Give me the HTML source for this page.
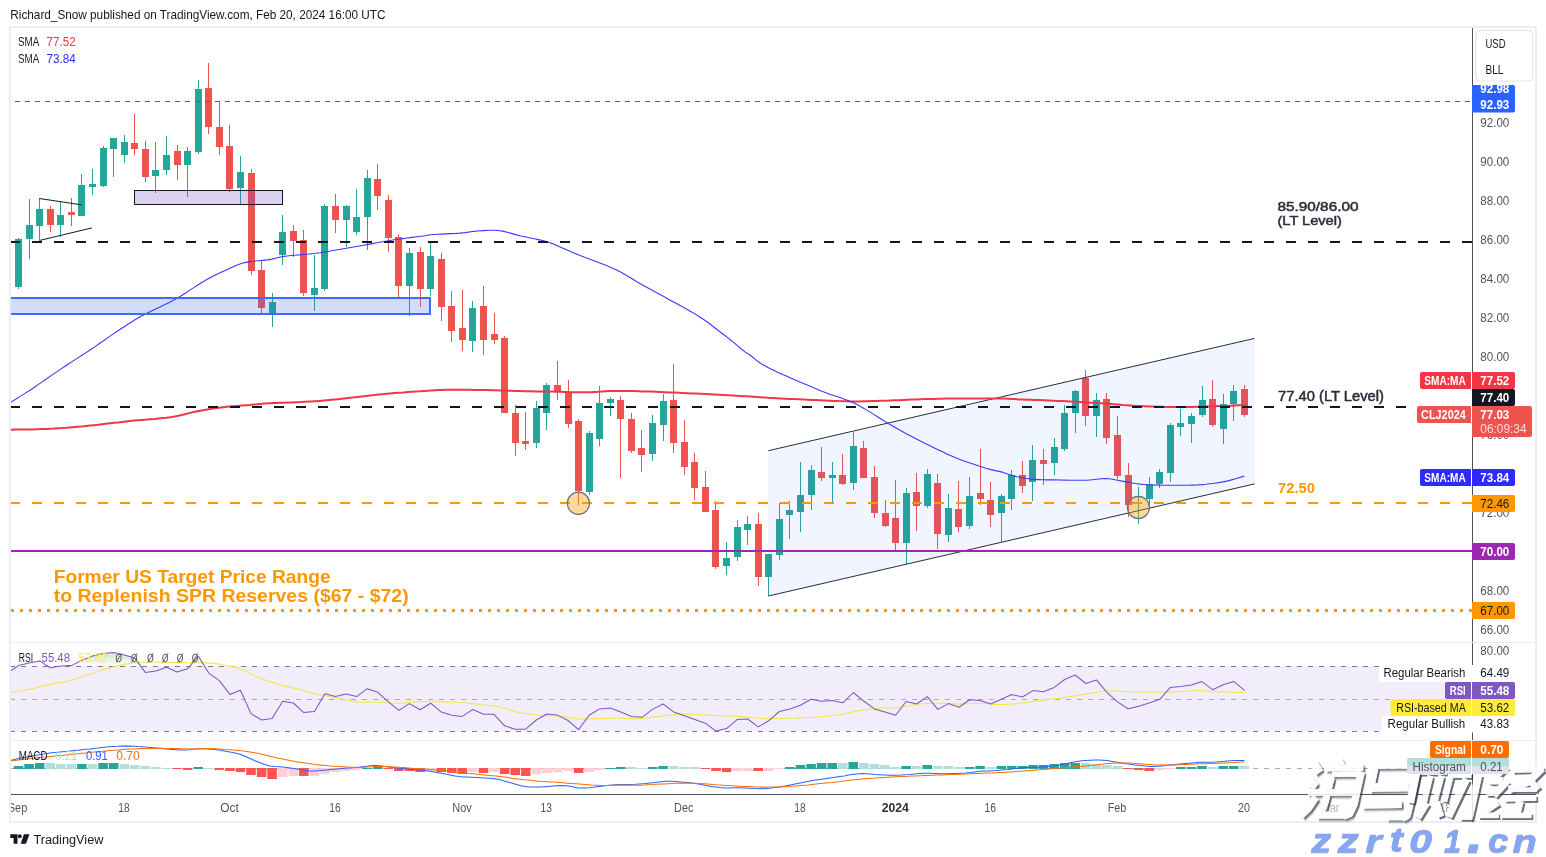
<!DOCTYPE html><html><head><meta charset="utf-8"><title>chart</title><style>html,body{margin:0;padding:0;background:#fff;overflow:hidden;font-family:"Liberation Sans",sans-serif;}svg{display:block;will-change:transform}</style></head><body><svg width="1546" height="857" viewBox="0 0 1546 857" font-family="Liberation Sans, sans-serif">
<rect width="1546" height="857" fill="#fff"/>
<text x="10.3" y="19.4" font-size="13" fill="#131722" textLength="375.2" lengthAdjust="spacingAndGlyphs" >Richard_Snow published on TradingView.com, Feb 20, 2024 16:00 UTC</text>
<rect x="10" y="27" width="1526" height="795" fill="none" stroke="#eceef4" stroke-width="2"/>
<rect x="10" y="642" width="1526" height="1" fill="#eceef4" shape-rendering="crispEdges"/>
<rect x="10" y="740" width="1526" height="1" fill="#eceef4" shape-rendering="crispEdges"/>
<defs><linearGradient id="obg" x1="0" y1="650" x2="0" y2="666" gradientUnits="userSpaceOnUse"><stop offset="0" stop-color="#4caf50" stop-opacity="0.32"/><stop offset="1" stop-color="#4caf50" stop-opacity="0.02"/></linearGradient><clipPath id="plot"><rect x="11" y="28" width="1461" height="766"/></clipPath></defs>
<g clip-path="url(#plot)">
<rect x="11" y="666" width="1461" height="65" fill="#f1edfa" shape-rendering="crispEdges"/>
<line x1="-1" y1="666.5" x2="1472" y2="666.5" stroke="#787b86" stroke-width="1" stroke-dasharray="5 6" shape-rendering="crispEdges"/>
<line x1="-1" y1="699.5" x2="1472" y2="699.5" stroke="#a9abb3" stroke-width="1" stroke-dasharray="5 6" shape-rendering="crispEdges"/>
<line x1="-1" y1="731.5" x2="1472" y2="731.5" stroke="#787b86" stroke-width="1" stroke-dasharray="5 6" shape-rendering="crispEdges"/>
<line x1="-1" y1="768.5" x2="1472" y2="768.5" stroke="#a9abb3" stroke-width="1" stroke-dasharray="5 6" shape-rendering="crispEdges"/>
<rect x="10" y="287" width="1" height="11" fill="#26a69a" shape-rendering="crispEdges"/>
<g shape-rendering="crispEdges">
<rect x="18" y="238" width="1" height="51" fill="#26a69a"/>
<rect x="15" y="239" width="7" height="48" fill="#26a69a"/>
<rect x="29" y="199" width="1" height="60" fill="#26a69a"/>
<rect x="26" y="225" width="7" height="14" fill="#26a69a"/>
<rect x="39" y="198" width="1" height="42" fill="#26a69a"/>
<rect x="36" y="209" width="7" height="17" fill="#26a69a"/>
<rect x="50" y="206" width="1" height="26" fill="#ef5350"/>
<rect x="47" y="209" width="7" height="16" fill="#ef5350"/>
<rect x="60" y="202" width="1" height="35" fill="#26a69a"/>
<rect x="57" y="215" width="7" height="10" fill="#26a69a"/>
<rect x="71" y="198" width="1" height="28" fill="#ef5350"/>
<rect x="68" y="212" width="7" height="3" fill="#ef5350"/>
<rect x="81" y="174" width="1" height="42" fill="#26a69a"/>
<rect x="78" y="185" width="7" height="31" fill="#26a69a"/>
<rect x="92" y="169" width="1" height="26" fill="#26a69a"/>
<rect x="89" y="184" width="7" height="3" fill="#26a69a"/>
<rect x="103" y="146" width="1" height="41" fill="#26a69a"/>
<rect x="100" y="148" width="7" height="38" fill="#26a69a"/>
<rect x="113" y="138" width="1" height="39" fill="#26a69a"/>
<rect x="110" y="138" width="7" height="11" fill="#26a69a"/>
<rect x="124" y="135" width="1" height="28" fill="#26a69a"/>
<rect x="121" y="142" width="7" height="13" fill="#26a69a"/>
<rect x="134" y="114" width="1" height="41" fill="#ef5350"/>
<rect x="131" y="143" width="7" height="6" fill="#ef5350"/>
<rect x="145" y="141" width="1" height="41" fill="#ef5350"/>
<rect x="142" y="149" width="7" height="28" fill="#ef5350"/>
<rect x="155" y="142" width="1" height="51" fill="#26a69a"/>
<rect x="152" y="170" width="7" height="6" fill="#26a69a"/>
<rect x="166" y="136" width="1" height="39" fill="#26a69a"/>
<rect x="163" y="155" width="7" height="15" fill="#26a69a"/>
<rect x="177" y="145" width="1" height="35" fill="#ef5350"/>
<rect x="174" y="151" width="7" height="14" fill="#ef5350"/>
<rect x="187" y="147" width="1" height="50" fill="#26a69a"/>
<rect x="184" y="151" width="7" height="14" fill="#26a69a"/>
<rect x="198" y="80" width="1" height="74" fill="#26a69a"/>
<rect x="195" y="89" width="7" height="63" fill="#26a69a"/>
<rect x="208" y="63" width="1" height="71" fill="#ef5350"/>
<rect x="205" y="88" width="7" height="39" fill="#ef5350"/>
<rect x="219" y="101" width="1" height="54" fill="#ef5350"/>
<rect x="216" y="127" width="7" height="20" fill="#ef5350"/>
<rect x="229" y="125" width="1" height="67" fill="#ef5350"/>
<rect x="226" y="146" width="7" height="43" fill="#ef5350"/>
<rect x="240" y="156" width="1" height="48" fill="#26a69a"/>
<rect x="237" y="172" width="7" height="16" fill="#26a69a"/>
<rect x="251" y="169" width="1" height="106" fill="#ef5350"/>
<rect x="248" y="173" width="7" height="98" fill="#ef5350"/>
<rect x="261" y="261" width="1" height="53" fill="#ef5350"/>
<rect x="258" y="270" width="7" height="38" fill="#ef5350"/>
<rect x="272" y="293" width="1" height="34" fill="#26a69a"/>
<rect x="269" y="302" width="7" height="11" fill="#26a69a"/>
<rect x="282" y="215" width="1" height="50" fill="#26a69a"/>
<rect x="279" y="232" width="7" height="23" fill="#26a69a"/>
<rect x="293" y="225" width="1" height="32" fill="#ef5350"/>
<rect x="290" y="231" width="7" height="10" fill="#ef5350"/>
<rect x="303" y="230" width="1" height="66" fill="#ef5350"/>
<rect x="300" y="240" width="7" height="53" fill="#ef5350"/>
<rect x="314" y="255" width="1" height="56" fill="#26a69a"/>
<rect x="311" y="288" width="7" height="7" fill="#26a69a"/>
<rect x="324" y="204" width="1" height="87" fill="#26a69a"/>
<rect x="321" y="206" width="7" height="83" fill="#26a69a"/>
<rect x="335" y="194" width="1" height="39" fill="#ef5350"/>
<rect x="332" y="206" width="7" height="14" fill="#ef5350"/>
<rect x="346" y="205" width="1" height="42" fill="#26a69a"/>
<rect x="343" y="206" width="7" height="14" fill="#26a69a"/>
<rect x="356" y="189" width="1" height="46" fill="#26a69a"/>
<rect x="353" y="217" width="7" height="15" fill="#26a69a"/>
<rect x="367" y="170" width="1" height="80" fill="#26a69a"/>
<rect x="364" y="178" width="7" height="39" fill="#26a69a"/>
<rect x="377" y="164" width="1" height="46" fill="#ef5350"/>
<rect x="374" y="179" width="7" height="17" fill="#ef5350"/>
<rect x="388" y="195" width="1" height="57" fill="#ef5350"/>
<rect x="385" y="200" width="7" height="38" fill="#ef5350"/>
<rect x="398" y="234" width="1" height="64" fill="#ef5350"/>
<rect x="395" y="237" width="7" height="49" fill="#ef5350"/>
<rect x="409" y="248" width="1" height="68" fill="#26a69a"/>
<rect x="406" y="253" width="7" height="33" fill="#26a69a"/>
<rect x="420" y="247" width="1" height="60" fill="#ef5350"/>
<rect x="417" y="252" width="7" height="37" fill="#ef5350"/>
<rect x="430" y="243" width="1" height="53" fill="#26a69a"/>
<rect x="427" y="256" width="7" height="33" fill="#26a69a"/>
<rect x="441" y="253" width="1" height="68" fill="#ef5350"/>
<rect x="438" y="259" width="7" height="48" fill="#ef5350"/>
<rect x="451" y="291" width="1" height="51" fill="#ef5350"/>
<rect x="448" y="306" width="7" height="25" fill="#ef5350"/>
<rect x="462" y="290" width="1" height="61" fill="#ef5350"/>
<rect x="459" y="328" width="7" height="12" fill="#ef5350"/>
<rect x="472" y="301" width="1" height="51" fill="#26a69a"/>
<rect x="469" y="308" width="7" height="33" fill="#26a69a"/>
<rect x="483" y="286" width="1" height="69" fill="#ef5350"/>
<rect x="480" y="306" width="7" height="34" fill="#ef5350"/>
<rect x="494" y="313" width="1" height="31" fill="#ef5350"/>
<rect x="491" y="334" width="7" height="6" fill="#ef5350"/>
<rect x="504" y="336" width="1" height="77" fill="#ef5350"/>
<rect x="501" y="338" width="7" height="75" fill="#ef5350"/>
<rect x="515" y="405" width="1" height="51" fill="#ef5350"/>
<rect x="512" y="413" width="7" height="30" fill="#ef5350"/>
<rect x="525" y="412" width="1" height="38" fill="#ef5350"/>
<rect x="522" y="441" width="7" height="3" fill="#ef5350"/>
<rect x="536" y="401" width="1" height="47" fill="#26a69a"/>
<rect x="533" y="408" width="7" height="35" fill="#26a69a"/>
<rect x="546" y="383" width="1" height="47" fill="#26a69a"/>
<rect x="543" y="385" width="7" height="28" fill="#26a69a"/>
<rect x="557" y="361" width="1" height="39" fill="#ef5350"/>
<rect x="554" y="385" width="7" height="7" fill="#ef5350"/>
<rect x="568" y="380" width="1" height="48" fill="#ef5350"/>
<rect x="565" y="392" width="7" height="32" fill="#ef5350"/>
<rect x="578" y="419" width="1" height="86" fill="#ef5350"/>
<rect x="575" y="421" width="7" height="70" fill="#ef5350"/>
<rect x="589" y="431" width="1" height="64" fill="#26a69a"/>
<rect x="586" y="433" width="7" height="59" fill="#26a69a"/>
<rect x="599" y="386" width="1" height="60" fill="#26a69a"/>
<rect x="596" y="403" width="7" height="36" fill="#26a69a"/>
<rect x="610" y="397" width="1" height="19" fill="#26a69a"/>
<rect x="607" y="399" width="7" height="4" fill="#26a69a"/>
<rect x="620" y="396" width="1" height="82" fill="#ef5350"/>
<rect x="617" y="400" width="7" height="19" fill="#ef5350"/>
<rect x="631" y="413" width="1" height="40" fill="#ef5350"/>
<rect x="628" y="419" width="7" height="32" fill="#ef5350"/>
<rect x="641" y="430" width="1" height="42" fill="#ef5350"/>
<rect x="638" y="448" width="7" height="7" fill="#ef5350"/>
<rect x="652" y="415" width="1" height="46" fill="#26a69a"/>
<rect x="649" y="423" width="7" height="31" fill="#26a69a"/>
<rect x="663" y="394" width="1" height="47" fill="#26a69a"/>
<rect x="660" y="401" width="7" height="24" fill="#26a69a"/>
<rect x="673" y="364" width="1" height="89" fill="#ef5350"/>
<rect x="670" y="400" width="7" height="43" fill="#ef5350"/>
<rect x="684" y="420" width="1" height="55" fill="#ef5350"/>
<rect x="681" y="442" width="7" height="25" fill="#ef5350"/>
<rect x="694" y="453" width="1" height="47" fill="#ef5350"/>
<rect x="691" y="462" width="7" height="26" fill="#ef5350"/>
<rect x="705" y="471" width="1" height="41" fill="#ef5350"/>
<rect x="702" y="487" width="7" height="25" fill="#ef5350"/>
<rect x="715" y="501" width="1" height="68" fill="#ef5350"/>
<rect x="712" y="510" width="7" height="57" fill="#ef5350"/>
<rect x="726" y="542" width="1" height="33" fill="#26a69a"/>
<rect x="723" y="558" width="7" height="8" fill="#26a69a"/>
<rect x="737" y="520" width="1" height="41" fill="#26a69a"/>
<rect x="734" y="527" width="7" height="30" fill="#26a69a"/>
<rect x="747" y="516" width="1" height="29" fill="#26a69a"/>
<rect x="744" y="524" width="7" height="6" fill="#26a69a"/>
<rect x="758" y="513" width="1" height="73" fill="#ef5350"/>
<rect x="755" y="524" width="7" height="53" fill="#ef5350"/>
<rect x="768" y="554" width="1" height="42" fill="#26a69a"/>
<rect x="765" y="554" width="7" height="23" fill="#26a69a"/>
<rect x="779" y="503" width="1" height="57" fill="#26a69a"/>
<rect x="776" y="519" width="7" height="36" fill="#26a69a"/>
<rect x="789" y="501" width="1" height="38" fill="#26a69a"/>
<rect x="786" y="510" width="7" height="5" fill="#26a69a"/>
<rect x="800" y="462" width="1" height="70" fill="#26a69a"/>
<rect x="797" y="495" width="7" height="17" fill="#26a69a"/>
<rect x="811" y="465" width="1" height="45" fill="#26a69a"/>
<rect x="808" y="470" width="7" height="25" fill="#26a69a"/>
<rect x="821" y="447" width="1" height="34" fill="#ef5350"/>
<rect x="818" y="472" width="7" height="6" fill="#ef5350"/>
<rect x="832" y="462" width="1" height="41" fill="#26a69a"/>
<rect x="829" y="475" width="7" height="3" fill="#26a69a"/>
<rect x="842" y="454" width="1" height="31" fill="#ef5350"/>
<rect x="839" y="475" width="7" height="9" fill="#ef5350"/>
<rect x="853" y="432" width="1" height="58" fill="#26a69a"/>
<rect x="850" y="446" width="7" height="37" fill="#26a69a"/>
<rect x="863" y="441" width="1" height="37" fill="#ef5350"/>
<rect x="860" y="448" width="7" height="30" fill="#ef5350"/>
<rect x="874" y="466" width="1" height="52" fill="#ef5350"/>
<rect x="871" y="477" width="7" height="36" fill="#ef5350"/>
<rect x="885" y="500" width="1" height="27" fill="#ef5350"/>
<rect x="882" y="513" width="7" height="13" fill="#ef5350"/>
<rect x="895" y="480" width="1" height="70" fill="#ef5350"/>
<rect x="892" y="518" width="7" height="25" fill="#ef5350"/>
<rect x="906" y="488" width="1" height="76" fill="#26a69a"/>
<rect x="903" y="493" width="7" height="50" fill="#26a69a"/>
<rect x="916" y="473" width="1" height="58" fill="#ef5350"/>
<rect x="913" y="492" width="7" height="14" fill="#ef5350"/>
<rect x="927" y="469" width="1" height="39" fill="#26a69a"/>
<rect x="924" y="474" width="7" height="32" fill="#26a69a"/>
<rect x="937" y="474" width="1" height="75" fill="#ef5350"/>
<rect x="934" y="483" width="7" height="51" fill="#ef5350"/>
<rect x="948" y="494" width="1" height="48" fill="#26a69a"/>
<rect x="945" y="508" width="7" height="27" fill="#26a69a"/>
<rect x="958" y="481" width="1" height="51" fill="#ef5350"/>
<rect x="955" y="509" width="7" height="18" fill="#ef5350"/>
<rect x="969" y="477" width="1" height="52" fill="#26a69a"/>
<rect x="966" y="496" width="7" height="30" fill="#26a69a"/>
<rect x="980" y="449" width="1" height="56" fill="#ef5350"/>
<rect x="977" y="493" width="7" height="6" fill="#ef5350"/>
<rect x="990" y="482" width="1" height="45" fill="#ef5350"/>
<rect x="987" y="500" width="7" height="15" fill="#ef5350"/>
<rect x="1001" y="494" width="1" height="48" fill="#26a69a"/>
<rect x="998" y="496" width="7" height="17" fill="#26a69a"/>
<rect x="1011" y="470" width="1" height="40" fill="#26a69a"/>
<rect x="1008" y="475" width="7" height="24" fill="#26a69a"/>
<rect x="1022" y="461" width="1" height="32" fill="#ef5350"/>
<rect x="1019" y="475" width="7" height="11" fill="#ef5350"/>
<rect x="1032" y="445" width="1" height="56" fill="#26a69a"/>
<rect x="1029" y="460" width="7" height="22" fill="#26a69a"/>
<rect x="1043" y="449" width="1" height="36" fill="#ef5350"/>
<rect x="1040" y="460" width="7" height="4" fill="#ef5350"/>
<rect x="1054" y="438" width="1" height="37" fill="#26a69a"/>
<rect x="1051" y="447" width="7" height="16" fill="#26a69a"/>
<rect x="1064" y="405" width="1" height="46" fill="#26a69a"/>
<rect x="1061" y="413" width="7" height="36" fill="#26a69a"/>
<rect x="1075" y="390" width="1" height="43" fill="#26a69a"/>
<rect x="1072" y="391" width="7" height="22" fill="#26a69a"/>
<rect x="1085" y="370" width="1" height="56" fill="#ef5350"/>
<rect x="1082" y="378" width="7" height="38" fill="#ef5350"/>
<rect x="1096" y="393" width="1" height="44" fill="#26a69a"/>
<rect x="1093" y="400" width="7" height="16" fill="#26a69a"/>
<rect x="1106" y="393" width="1" height="51" fill="#ef5350"/>
<rect x="1103" y="399" width="7" height="39" fill="#ef5350"/>
<rect x="1117" y="416" width="1" height="63" fill="#ef5350"/>
<rect x="1114" y="435" width="7" height="41" fill="#ef5350"/>
<rect x="1128" y="463" width="1" height="54" fill="#ef5350"/>
<rect x="1125" y="475" width="7" height="30" fill="#ef5350"/>
<rect x="1138" y="487" width="1" height="37" fill="#26a69a"/>
<rect x="1135" y="502" width="7" height="2" fill="#26a69a"/>
<rect x="1149" y="477" width="1" height="33" fill="#26a69a"/>
<rect x="1146" y="484" width="7" height="15" fill="#26a69a"/>
<rect x="1159" y="469" width="1" height="19" fill="#26a69a"/>
<rect x="1156" y="472" width="7" height="12" fill="#26a69a"/>
<rect x="1170" y="423" width="1" height="59" fill="#26a69a"/>
<rect x="1167" y="425" width="7" height="48" fill="#26a69a"/>
<rect x="1180" y="409" width="1" height="27" fill="#26a69a"/>
<rect x="1177" y="423" width="7" height="4" fill="#26a69a"/>
<rect x="1191" y="413" width="1" height="30" fill="#26a69a"/>
<rect x="1188" y="416" width="7" height="8" fill="#26a69a"/>
<rect x="1202" y="386" width="1" height="31" fill="#26a69a"/>
<rect x="1199" y="400" width="7" height="15" fill="#26a69a"/>
<rect x="1212" y="380" width="1" height="47" fill="#ef5350"/>
<rect x="1209" y="399" width="7" height="26" fill="#ef5350"/>
<rect x="1223" y="394" width="1" height="50" fill="#26a69a"/>
<rect x="1220" y="404" width="7" height="25" fill="#26a69a"/>
<rect x="1233" y="385" width="1" height="36" fill="#26a69a"/>
<rect x="1230" y="391" width="7" height="13" fill="#26a69a"/>
<rect x="1244" y="385" width="1" height="32" fill="#ef5350"/>
<rect x="1241" y="389" width="7" height="26" fill="#ef5350"/>
</g>
<line x1="15" y1="101.5" x2="1472" y2="101.5" stroke="#2962ff" stroke-width="1" stroke-dasharray="5 5" shape-rendering="crispEdges"/>
<polygon points="768.4,450.7 1254.6,338.4 1254.6,483.9 768.4,596.0" fill="rgba(41,98,255,0.065)"/>
<line x1="768.4" y1="450.7" x2="1254.6" y2="338.4" stroke="#2a2e39" stroke-width="1"/>
<line x1="768.4" y1="596.0" x2="1254.6" y2="483.9" stroke="#2a2e39" stroke-width="1"/>
<polyline points="10.0,429.7 12.4,429.7 15.4,429.6 19.1,429.6 23.1,429.5 27.5,429.4 32.1,429.4 36.7,429.3 41.4,429.1 45.8,429.0 50.0,428.8 54.0,428.6 58.0,428.3 62.0,428.1 66.0,427.8 70.0,427.4 74.0,427.1 78.0,426.7 82.0,426.4 86.0,426.0 90.0,425.6 94.0,425.2 98.0,424.8 102.0,424.3 106.0,423.8 110.0,423.3 114.0,422.8 118.0,422.4 122.0,421.9 126.0,421.4 130.0,421.0 134.0,420.6 138.2,420.2 142.3,419.9 146.5,419.6 150.6,419.2 154.7,418.9 158.7,418.5 162.6,418.1 166.4,417.7 170.0,417.2 174.9,416.4 179.4,415.5 183.8,414.5 188.0,413.4 192.1,412.4 196.1,411.5 200.0,410.7 204.5,409.9 208.7,409.2 212.8,408.6 216.9,408.0 220.9,407.5 225.0,407.0 229.2,406.6 233.5,406.2 237.8,405.9 242.0,405.6 246.1,405.3 250.0,405.0 253.8,404.6 256.9,404.3 260.1,403.9 264.2,403.6 270.0,403.2 273.1,403.0 276.4,402.9 279.9,402.8 283.7,402.7 287.7,402.5 291.9,402.4 296.2,402.2 300.7,402.1 305.4,401.8 310.2,401.6 315.0,401.3 320.0,400.9 323.6,400.6 327.4,400.2 331.4,399.8 335.5,399.4 339.7,399.0 344.0,398.5 348.3,398.0 352.7,397.5 357.1,397.0 361.5,396.5 365.8,396.0 370.1,395.5 374.3,395.1 378.5,394.6 382.5,394.2 386.3,393.8 390.0,393.5 394.6,393.1 399.2,392.7 403.6,392.4 407.9,392.0 412.1,391.7 416.2,391.4 420.2,391.2 424.1,390.9 427.8,390.7 431.5,390.5 435.1,390.3 438.6,390.1 442.0,390.0 447.3,389.8 452.2,389.7 456.9,389.7 461.3,389.7 465.5,389.7 469.5,389.8 473.3,389.9 477.0,389.9 482.4,390.0 487.2,390.0 491.6,390.2 495.8,390.3 500.0,390.4 504.0,390.5 507.6,390.7 511.3,390.8 515.3,391.0 520.0,391.1 523.4,391.2 527.1,391.2 531.0,391.3 535.1,391.4 539.3,391.4 543.5,391.5 547.8,391.5 552.0,391.6 556.2,391.7 560.6,391.8 565.0,391.9 569.4,392.1 573.9,392.2 578.3,392.3 582.7,392.3 587.0,392.3 591.1,392.2 594.9,392.0 598.6,391.8 602.2,391.5 606.1,391.3 610.2,391.1 614.8,390.9 620.0,390.9 623.5,390.9 627.0,391.0 630.8,391.0 634.6,391.1 638.6,391.2 642.8,391.4 647.0,391.5 651.4,391.6 655.9,391.8 660.5,392.0 665.2,392.2 670.1,392.4 675.0,392.6 678.8,392.8 682.8,393.0 687.0,393.2 691.4,393.4 695.9,393.6 700.6,393.8 705.3,394.1 710.0,394.3 714.7,394.6 719.3,394.8 723.9,395.1 728.3,395.3 732.6,395.5 736.6,395.8 740.5,396.0 744.0,396.2 747.2,396.3 750.0,396.5 757.0,396.9 760.5,397.2 762.5,397.4 765.0,397.6 770.0,397.9 773.2,398.1 776.8,398.3 780.7,398.5 785.0,398.7 789.5,398.9 794.1,399.1 798.7,399.3 803.3,399.6 807.9,399.8 812.2,400.0 816.3,400.1 820.0,400.3 825.1,400.5 829.8,400.7 834.2,400.9 838.4,401.1 842.5,401.2 846.6,401.3 850.7,401.4 855.0,401.4 859.4,401.4 863.8,401.3 868.1,401.2 872.5,401.1 876.9,401.0 881.2,400.8 885.6,400.7 890.0,400.5 894.4,400.3 898.8,400.2 903.1,400.0 907.5,399.8 911.9,399.6 916.2,399.4 920.6,399.2 925.0,399.1 929.3,399.0 933.6,398.9 937.8,398.7 942.0,398.7 946.3,398.6 950.7,398.5 955.2,398.4 960.0,398.4 964.1,398.4 968.5,398.4 973.1,398.4 977.9,398.4 982.6,398.4 987.3,398.4 991.8,398.5 995.9,398.5 999.7,398.6 1003.0,398.6 1008.3,398.7 1011.1,398.9 1014.0,399.1 1020.0,399.4 1023.1,399.5 1026.6,399.7 1030.5,399.8 1034.8,400.0 1039.3,400.1 1043.9,400.3 1048.6,400.5 1053.2,400.7 1057.8,400.9 1062.2,401.0 1066.3,401.2 1070.0,401.4 1075.1,401.7 1079.8,401.9 1084.2,402.2 1088.4,402.4 1092.5,402.7 1096.6,402.9 1100.7,403.2 1105.0,403.5 1109.4,403.8 1113.8,404.2 1118.1,404.5 1122.5,404.9 1126.9,405.2 1131.2,405.6 1135.6,405.9 1140.0,406.1 1144.4,406.3 1148.8,406.5 1153.1,406.6 1157.5,406.7 1161.9,406.8 1166.2,406.9 1170.6,407.0 1175.0,407.0 1179.4,407.0 1183.8,407.0 1188.1,407.0 1192.5,406.9 1196.9,406.8 1201.2,406.7 1205.6,406.6 1210.0,406.5 1214.6,406.3 1219.6,406.1 1224.7,405.9 1229.7,405.7 1234.4,405.4 1238.7,405.2 1242.3,405.0 1245.0,404.9" fill="none" stroke="#f23645" stroke-width="2" stroke-linejoin="round" stroke-linecap="round" />
<polyline points="10.0,402.7 12.6,401.1 16.1,399.0 20.3,396.4 25.0,393.4 30.0,390.2 33.8,387.7 37.8,384.9 42.2,381.9 46.6,378.8 51.1,375.6 55.6,372.6 60.0,369.6 64.3,366.7 68.8,363.8 73.2,360.9 77.6,358.1 81.9,355.3 86.1,352.6 90.0,350.0 95.1,346.6 99.8,343.3 104.2,340.2 108.6,337.1 113.0,334.1 117.6,331.0 122.2,328.0 126.8,325.0 131.1,322.2 135.0,319.8 140.5,316.6 145.3,314.1 150.0,311.7 155.1,309.3 160.1,306.9 165.0,304.6 168.9,302.7 172.6,300.8 178.0,297.7 181.3,295.7 185.2,293.2 189.4,290.4 193.8,287.6 198.2,284.8 202.3,282.2 206.0,280.0 211.5,277.0 216.3,274.5 220.7,272.5 225.0,270.5 230.5,268.0 235.5,265.8 240.0,264.1 244.8,262.6 250.0,261.6 253.8,261.2 258.3,260.8 262.9,260.4 267.5,259.9 271.9,259.1 276.2,258.0 280.6,257.0 285.0,256.2 289.4,255.7 293.8,255.3 298.1,255.0 302.5,254.6 306.9,254.2 311.2,253.7 315.6,253.3 320.0,252.7 324.4,252.0 328.8,251.3 333.1,250.5 337.5,249.7 341.9,249.0 346.2,248.3 350.6,247.5 355.0,246.8 359.4,246.0 363.8,245.2 368.1,244.4 372.5,243.6 376.9,242.8 381.2,242.0 385.6,241.2 390.0,240.5 394.4,239.8 398.8,239.2 403.1,238.6 407.5,238.0 412.1,237.4 416.8,236.8 421.2,236.2 425.0,235.7 428.8,235.0 433.7,234.5 437.2,234.3 441.5,234.1 446.3,233.9 451.2,233.6 455.9,233.4 460.0,233.1 465.0,232.6 469.4,232.0 473.5,231.4 477.5,231.0 483.1,230.6 488.4,230.3 493.2,230.3 498.4,230.5 503.7,231.4 507.3,232.3 511.3,233.4 515.6,234.6 520.0,235.7 524.6,236.7 529.5,237.7 534.3,238.7 538.5,239.6 543.7,240.7 550.0,242.7 553.5,244.1 557.4,245.8 561.8,247.7 566.6,249.8 571.6,252.0 577.0,254.2 580.8,255.7 585.0,257.4 589.4,259.0 594.0,260.8 598.6,262.5 603.2,264.3 607.6,266.1 611.8,267.9 615.6,269.6 620.6,272.1 624.9,274.4 628.8,276.8 632.8,279.3 637.2,282.0 642.5,285.0 646.2,287.1 650.4,289.3 654.8,291.8 659.5,294.3 664.2,296.8 668.9,299.4 673.5,301.9 677.8,304.2 681.6,306.3 685.0,308.2 691.5,311.9 696.3,314.8 700.2,317.2 704.0,319.7 709.1,323.3 713.5,326.8 717.6,330.0 722.6,333.7 728.0,337.9 732.1,341.2 736.8,345.2 741.4,349.0 745.0,351.9 750.0,355.0 752.8,357.2 756.1,360.1 760.8,363.5 768.0,367.6 770.9,369.0 774.3,370.6 778.0,372.4 782.1,374.2 786.3,376.1 790.7,378.0 795.2,379.9 799.7,381.9 804.1,383.8 808.5,385.6 812.6,387.3 816.5,388.9 820.0,390.4 825.2,392.4 829.9,394.2 834.4,395.7 838.6,397.1 842.6,398.4 846.6,399.9 850.7,401.6 855.0,403.5 859.4,405.8 864.0,408.4 868.5,411.1 873.1,413.9 877.5,416.8 881.9,419.5 886.1,422.1 890.0,424.5 894.9,427.3 899.3,429.8 903.6,432.2 907.7,434.4 911.8,436.6 916.0,438.8 920.4,441.1 925.0,443.4 929.5,445.6 933.9,447.8 938.1,449.8 942.0,451.6 946.9,453.9 951.0,455.8 955.1,457.6 960.0,459.5 964.0,461.0 968.4,462.5 973.1,464.1 977.7,465.6 982.1,467.0 986.0,468.2 991.0,469.6 995.2,470.6 999.2,471.4 1003.0,472.4 1007.7,473.9 1012.1,475.4 1017.0,476.7 1021.1,477.5 1025.3,478.3 1029.9,478.9 1035.0,479.4 1038.7,479.6 1042.7,479.8 1046.9,479.9 1051.3,479.9 1055.6,479.9 1060.0,480.0 1064.5,480.1 1069.2,480.2 1073.9,480.2 1078.6,480.3 1083.0,480.3 1087.0,480.2 1092.2,479.8 1096.6,479.2 1100.8,478.7 1105.0,478.5 1109.3,478.8 1113.5,479.5 1117.7,480.3 1122.0,481.1 1126.5,481.9 1131.0,482.7 1135.5,483.5 1140.0,484.1 1143.9,484.5 1147.4,484.8 1151.5,485.0 1157.0,485.1 1160.6,485.2 1164.9,485.2 1169.6,485.2 1174.4,485.3 1179.3,485.2 1184.0,485.2 1188.3,485.2 1192.0,485.1 1197.7,484.9 1202.1,484.6 1206.0,484.2 1210.0,483.7 1214.3,483.2 1218.6,482.6 1222.8,481.9 1227.0,481.1 1231.6,479.9 1236.6,478.5 1240.9,477.1 1244.0,476.2" fill="none" stroke="#3a3aff" stroke-width="1.1" stroke-linejoin="round" stroke-linecap="round" />
<line x1="39.4" y1="198.5" x2="81.4" y2="204.8" stroke="#131722" stroke-width="1"/>
<line x1="39.4" y1="240.5" x2="91.9" y2="227.9" stroke="#131722" stroke-width="1"/>
<rect x="134.5" y="190.5" width="148" height="14" fill="rgba(103,58,183,0.24)" stroke="#131722" stroke-width="1"/>
<rect x="9" y="298" width="421" height="16" fill="rgba(41,98,255,0.22)" stroke="#3d6cf7" stroke-width="2"/>
<line x1="10" y1="241.5" x2="1472" y2="241.5" stroke="#131722" stroke-width="2" stroke-dasharray="10 12" shape-rendering="crispEdges"/>
<line x1="10" y1="407" x2="1406" y2="407" stroke="#131722" stroke-width="2" stroke-dasharray="10 12" shape-rendering="crispEdges"/>
<line x1="10" y1="503" x2="1472" y2="503" stroke="#ff9800" stroke-width="2" stroke-dasharray="10 12" shape-rendering="crispEdges"/>
<rect x="11" y="550" width="1461" height="2" fill="#9c27b0" shape-rendering="crispEdges"/>
<line x1="11" y1="610.5" x2="1472" y2="610.5" stroke="#ff9800" stroke-width="3" stroke-dasharray="3 6" shape-rendering="crispEdges"/>
<circle cx="578.4" cy="503.3" r="11.1" fill="rgba(255,152,0,0.38)" stroke="#6b6f7d" stroke-width="1.2"/>
<circle cx="1138.4" cy="507.4" r="11.1" fill="rgba(255,152,0,0.38)" stroke="#6b6f7d" stroke-width="1.2"/>
<text x="1277.5" y="210.5" font-size="13" fill="#2a2e39" textLength="81" lengthAdjust="spacingAndGlyphs" stroke="#2a2e39" stroke-width="0.5">85.90/86.00</text>
<text x="1277.5" y="225" font-size="13" fill="#2a2e39" textLength="64.3" lengthAdjust="spacingAndGlyphs" stroke="#2a2e39" stroke-width="0.5">(LT Level)</text>
<text x="1278" y="401.2" font-size="14" fill="#2a2e39" textLength="106" lengthAdjust="spacingAndGlyphs" stroke="#2a2e39" stroke-width="0.5">77.40 (LT Level)</text>
<text x="1278" y="492.5" font-size="14" fill="#ff9800" font-weight="bold" textLength="37" lengthAdjust="spacingAndGlyphs" >72.50</text>
<text x="53.7" y="583.1" font-size="19" fill="#ff9800" font-weight="bold" textLength="277" lengthAdjust="spacingAndGlyphs" >Former US Target Price Range</text>
<text x="53.7" y="601.8" font-size="19" fill="#ff9800" font-weight="bold" textLength="355" lengthAdjust="spacingAndGlyphs" >to Replenish SPR Reserves ($67 - $72)</text>
<polygon points="8.0,666.0 18.5,665.6 29.1,663.0 39.7,660.9 50.2,666.0 60.8,666.0 71.4,665.6 81.9,660.3 92.5,656.0 103.1,653.4 113.6,652.4 124.2,654.9 134.8,658.1 145.3,666.0 155.9,666.0 166.5,666.0 177.0,666.0 187.6,666.0 198.2,656.0 208.7,666.0 219.3,666.0 219.3,666 8.0,666" fill="url(#obg)"/>
<polyline points="10.0,692.3 12.7,691.9 16.6,691.3 21.0,690.7 25.7,689.9 30.0,689.1 34.0,688.2 38.0,687.2 42.0,686.1 46.0,685.1 50.0,684.2 54.0,683.4 58.0,682.8 62.0,682.2 66.0,681.5 70.0,680.6 74.0,679.5 78.0,678.2 82.0,676.9 86.0,675.5 90.0,674.2 94.0,672.9 98.0,671.5 102.0,670.1 106.0,668.9 110.0,667.7 114.0,666.7 118.0,665.7 122.0,664.9 126.0,664.1 130.0,663.5 134.0,663.0 138.0,662.6 142.0,662.3 146.0,662.1 150.0,662.0 154.0,662.0 158.0,662.0 162.0,662.1 166.0,662.3 170.0,662.4 174.0,662.5 178.0,662.6 182.0,662.6 186.0,662.7 190.0,662.8 194.1,662.8 198.2,662.8 202.4,662.9 206.3,662.9 210.0,663.1 215.4,663.6 220.2,664.3 225.0,665.2 229.8,666.1 234.6,667.1 240.0,668.8 243.7,670.3 247.6,672.2 251.8,674.2 255.9,676.2 260.0,678.0 264.0,679.5 268.0,681.0 272.0,682.3 276.0,683.6 280.0,684.8 284.1,685.9 288.2,686.9 292.4,687.7 296.3,688.6 300.0,689.5 305.4,691.0 310.2,692.5 315.0,693.8 320.2,694.9 325.4,695.8 330.0,696.6 334.7,697.6 340.0,698.7 343.4,699.3 347.3,700.1 351.5,700.9 355.8,701.6 360.0,702.1 364.0,702.3 368.0,702.4 372.0,702.3 376.0,702.3 380.0,702.3 384.0,702.5 388.0,702.7 392.0,703.0 396.0,703.2 400.0,703.2 404.0,703.0 408.0,702.6 412.0,702.2 416.0,701.7 420.0,701.5 424.0,701.4 428.0,701.5 432.0,701.6 436.0,701.8 440.0,701.9 444.0,702.0 448.0,702.1 452.0,702.1 456.0,702.3 460.0,702.5 464.0,702.8 468.0,703.2 472.0,703.6 476.0,704.0 480.0,704.5 484.0,705.0 488.0,705.4 492.0,705.9 496.0,706.5 500.0,707.2 504.0,708.2 508.0,709.3 512.0,710.5 516.0,711.7 520.0,712.6 524.0,713.3 528.0,713.9 532.0,714.3 536.0,714.7 540.0,715.1 544.0,715.4 548.0,715.6 552.0,715.7 556.0,715.9 560.0,716.2 564.0,716.7 568.0,717.4 572.0,718.0 576.0,718.6 580.0,719.0 584.0,719.1 588.0,719.0 592.0,718.8 596.0,718.6 600.0,718.5 604.0,718.4 608.0,718.4 612.0,718.3 616.0,718.3 620.0,718.3 624.0,718.4 628.0,718.5 632.0,718.6 636.0,718.7 640.0,718.6 644.0,718.3 648.0,717.9 652.0,717.4 656.0,716.9 660.0,716.4 664.0,715.9 668.0,715.3 672.0,714.8 676.0,714.4 680.0,714.1 684.0,714.0 688.0,714.1 692.0,714.3 696.0,714.5 700.0,714.7 704.0,714.9 708.0,715.1 712.0,715.4 716.0,715.6 720.0,715.8 724.0,715.9 728.0,716.0 732.0,716.1 736.0,716.2 740.0,716.4 744.0,716.7 748.0,717.1 752.0,717.6 756.0,718.0 760.0,718.3 764.0,718.5 768.0,718.5 772.0,718.6 776.0,718.5 780.0,718.5 784.0,718.4 788.0,718.3 792.0,718.2 796.0,718.1 800.0,717.9 804.0,717.7 808.0,717.5 812.0,717.3 816.0,717.1 820.0,716.8 824.0,716.5 828.0,716.1 832.0,715.7 836.0,715.3 840.0,714.7 844.0,713.9 848.0,713.0 852.0,712.1 856.0,711.2 860.0,710.4 864.0,709.8 868.0,709.4 872.0,709.0 876.0,708.6 880.0,708.3 884.0,708.0 888.0,707.9 892.0,707.7 896.0,707.5 900.0,707.2 904.0,706.7 908.0,706.0 912.0,705.2 916.0,704.5 920.0,704.0 924.0,703.7 928.0,703.4 932.0,703.3 936.0,703.2 940.0,703.2 944.0,703.3 948.0,703.5 952.0,703.7 956.0,703.9 960.0,704.0 964.0,703.9 968.0,703.8 972.0,703.6 976.0,703.4 980.0,703.4 984.0,703.5 988.0,703.8 992.0,704.2 996.0,704.4 1000.0,704.5 1004.0,704.4 1008.0,704.2 1012.0,703.9 1016.0,703.6 1020.0,703.2 1024.0,702.7 1028.0,702.2 1032.0,701.6 1036.0,701.0 1040.0,700.4 1044.0,699.9 1048.0,699.5 1052.0,699.0 1056.0,698.6 1060.0,698.1 1064.0,697.6 1068.0,697.0 1072.0,696.4 1076.0,695.7 1080.0,695.1 1084.2,694.4 1088.5,693.6 1092.7,692.9 1096.6,692.2 1100.0,691.7 1105.0,691.0 1110.0,690.8 1113.4,690.9 1117.3,691.0 1121.5,691.3 1125.8,691.5 1130.0,691.7 1134.0,691.9 1138.0,692.0 1142.0,692.1 1146.0,692.2 1150.0,692.3 1154.0,692.3 1158.0,692.2 1162.0,692.1 1166.0,692.0 1170.0,691.9 1174.2,691.7 1178.5,691.6 1182.7,691.3 1186.6,691.2 1190.0,691.0 1195.0,690.7 1200.0,690.6 1203.3,690.8 1207.1,691.0 1211.2,691.3 1215.6,691.7 1220.0,691.9 1224.0,692.0 1228.6,692.2 1233.2,692.3 1237.6,692.4 1241.3,692.4 1244.0,692.5" fill="none" stroke="#f7e64a" stroke-width="1.1" stroke-linejoin="round" stroke-linecap="round" />
<polyline points="8.0,672.7 18.5,665.6 29.1,663.0 39.7,660.9 50.2,667.7 60.8,666.0 71.4,665.6 81.9,660.3 92.5,656.0 103.1,653.4 113.6,652.4 124.2,654.9 134.8,658.1 145.3,672.4 155.9,671.0 166.5,667.3 177.0,672.0 187.6,668.8 198.2,656.0 208.7,673.1 219.3,680.6 229.9,694.4 240.4,690.2 251.0,713.6 261.6,720.0 272.1,718.5 282.7,701.3 293.3,703.0 303.8,712.6 314.4,711.5 325.0,693.8 335.5,696.6 346.1,694.0 356.7,696.6 367.2,688.7 377.8,692.3 388.4,701.9 398.9,710.4 409.5,703.6 420.1,709.8 430.6,703.2 441.2,711.9 451.8,715.3 462.3,716.4 472.9,709.4 483.5,714.3 494.0,714.3 504.6,725.8 515.2,729.2 525.7,729.2 536.3,720.0 546.9,714.0 557.4,715.1 568.0,720.5 578.6,729.6 589.1,715.3 599.7,708.9 610.3,708.1 620.8,711.9 631.4,716.4 642.0,717.3 652.5,709.4 663.1,704.0 673.7,711.9 684.3,715.8 694.8,719.6 705.4,723.2 716.0,731.1 726.5,728.6 737.1,719.6 747.7,719.0 758.2,726.9 768.8,720.7 779.4,711.5 789.9,708.9 800.5,705.3 811.1,699.3 821.6,701.3 832.2,700.4 842.8,702.8 853.3,692.5 863.9,701.3 874.5,708.9 885.0,711.9 895.6,715.3 906.2,701.5 916.7,704.0 927.3,696.6 937.9,709.4 948.4,703.6 959.0,707.2 969.6,699.8 980.1,700.4 990.7,704.0 1001.3,699.3 1011.8,694.6 1022.4,697.0 1033.0,690.6 1043.5,691.7 1054.1,687.4 1064.7,679.5 1075.2,675.0 1085.8,683.5 1096.4,679.9 1106.9,692.3 1117.5,701.9 1128.1,708.7 1138.6,706.2 1149.2,703.0 1159.8,699.3 1170.3,687.4 1180.9,686.5 1191.5,685.0 1202.0,681.6 1212.6,689.7 1223.2,684.8 1233.7,681.4 1244.3,690.2" fill="none" stroke="#7e57c2" stroke-width="1.05" stroke-linejoin="round" stroke-linecap="round" />
<g>
<rect x="13.7" y="766" width="9.6" height="3" fill="#26a69a"/>
<rect x="24.3" y="764" width="9.6" height="5" fill="#26a69a"/>
<rect x="34.9" y="763" width="9.6" height="6" fill="#26a69a"/>
<rect x="45.4" y="763" width="9.6" height="6" fill="#b2dfdb"/>
<rect x="56.0" y="764" width="9.6" height="5" fill="#b2dfdb"/>
<rect x="66.6" y="764" width="9.6" height="5" fill="#b2dfdb"/>
<rect x="77.1" y="764" width="9.6" height="5" fill="#26a69a"/>
<rect x="87.7" y="764" width="9.6" height="5" fill="#b2dfdb"/>
<rect x="98.3" y="763" width="9.6" height="6" fill="#26a69a"/>
<rect x="108.8" y="763" width="9.6" height="6" fill="#26a69a"/>
<rect x="119.4" y="764" width="9.6" height="5" fill="#b2dfdb"/>
<rect x="130.0" y="765" width="9.6" height="4" fill="#b2dfdb"/>
<rect x="140.5" y="766" width="9.6" height="3" fill="#b2dfdb"/>
<rect x="151.1" y="767" width="9.6" height="2" fill="#b2dfdb"/>
<rect x="161.7" y="768" width="9.6" height="1" fill="#b2dfdb"/>
<rect x="172.2" y="768" width="9.6" height="1" fill="#ff5252"/>
<rect x="182.8" y="768" width="9.6" height="2" fill="#ff5252"/>
<rect x="193.4" y="767" width="9.6" height="2" fill="#26a69a"/>
<rect x="203.9" y="768" width="9.6" height="1" fill="#b2dfdb"/>
<rect x="214.5" y="768" width="9.6" height="2" fill="#ff5252"/>
<rect x="225.1" y="768" width="9.6" height="3" fill="#ff5252"/>
<rect x="235.6" y="768" width="9.6" height="4" fill="#ff5252"/>
<rect x="246.2" y="768" width="9.6" height="7" fill="#ff5252"/>
<rect x="256.8" y="768" width="9.6" height="9" fill="#ff5252"/>
<rect x="267.3" y="768" width="9.6" height="11" fill="#ff5252"/>
<rect x="277.9" y="768" width="9.6" height="9" fill="#ffcdd2"/>
<rect x="288.5" y="768" width="9.6" height="8" fill="#ffcdd2"/>
<rect x="299.0" y="768" width="9.6" height="8" fill="#ff5252"/>
<rect x="309.6" y="768" width="9.6" height="8" fill="#ffcdd2"/>
<rect x="320.2" y="768" width="9.6" height="6" fill="#ffcdd2"/>
<rect x="330.7" y="768" width="9.6" height="4" fill="#ffcdd2"/>
<rect x="341.3" y="768" width="9.6" height="3" fill="#ffcdd2"/>
<rect x="351.9" y="768" width="9.6" height="2" fill="#ffcdd2"/>
<rect x="362.4" y="768" width="9.6" height="1" fill="#26a69a"/>
<rect x="373.0" y="767" width="9.6" height="2" fill="#26a69a"/>
<rect x="383.6" y="768" width="9.6" height="1" fill="#ff5252"/>
<rect x="394.1" y="768" width="9.6" height="3" fill="#ff5252"/>
<rect x="404.7" y="768" width="9.6" height="3" fill="#ff5252"/>
<rect x="415.3" y="768" width="9.6" height="4" fill="#ff5252"/>
<rect x="425.8" y="768" width="9.6" height="3" fill="#ffcdd2"/>
<rect x="436.4" y="768" width="9.6" height="4" fill="#ff5252"/>
<rect x="447.0" y="768" width="9.6" height="5" fill="#ff5252"/>
<rect x="457.5" y="768" width="9.6" height="6" fill="#ff5252"/>
<rect x="468.1" y="768" width="9.6" height="4" fill="#ffcdd2"/>
<rect x="478.7" y="768" width="9.6" height="5" fill="#ff5252"/>
<rect x="489.2" y="768" width="9.6" height="4" fill="#ffcdd2"/>
<rect x="499.8" y="768" width="9.6" height="6" fill="#ff5252"/>
<rect x="510.4" y="768" width="9.6" height="7" fill="#ff5252"/>
<rect x="520.9" y="768" width="9.6" height="8" fill="#ff5252"/>
<rect x="531.5" y="768" width="9.6" height="6" fill="#ffcdd2"/>
<rect x="542.1" y="768" width="9.6" height="5" fill="#ffcdd2"/>
<rect x="552.6" y="768" width="9.6" height="4" fill="#ffcdd2"/>
<rect x="563.2" y="768" width="9.6" height="3" fill="#ffcdd2"/>
<rect x="573.8" y="768" width="9.6" height="5" fill="#ff5252"/>
<rect x="584.3" y="768" width="9.6" height="4" fill="#ffcdd2"/>
<rect x="594.9" y="768" width="9.6" height="2" fill="#ffcdd2"/>
<rect x="605.5" y="768" width="9.6" height="1" fill="#26a69a"/>
<rect x="616.0" y="767" width="9.6" height="2" fill="#26a69a"/>
<rect x="626.6" y="767" width="9.6" height="2" fill="#b2dfdb"/>
<rect x="637.2" y="768" width="9.6" height="1" fill="#b2dfdb"/>
<rect x="647.8" y="767" width="9.6" height="2" fill="#26a69a"/>
<rect x="658.3" y="766" width="9.6" height="3" fill="#26a69a"/>
<rect x="668.9" y="766" width="9.6" height="3" fill="#b2dfdb"/>
<rect x="679.5" y="767" width="9.6" height="2" fill="#b2dfdb"/>
<rect x="690.0" y="767" width="9.6" height="2" fill="#b2dfdb"/>
<rect x="700.6" y="768" width="9.6" height="1" fill="#ff5252"/>
<rect x="711.2" y="768" width="9.6" height="3" fill="#ff5252"/>
<rect x="721.7" y="768" width="9.6" height="4" fill="#ff5252"/>
<rect x="732.3" y="768" width="9.6" height="3" fill="#ffcdd2"/>
<rect x="742.9" y="768" width="9.6" height="3" fill="#ffcdd2"/>
<rect x="753.4" y="768" width="9.6" height="3" fill="#ff5252"/>
<rect x="764.0" y="768" width="9.6" height="3" fill="#ffcdd2"/>
<rect x="774.6" y="768" width="9.6" height="1" fill="#ffcdd2"/>
<rect x="785.1" y="767" width="9.6" height="2" fill="#26a69a"/>
<rect x="795.7" y="765" width="9.6" height="4" fill="#26a69a"/>
<rect x="806.3" y="764" width="9.6" height="5" fill="#26a69a"/>
<rect x="816.8" y="763" width="9.6" height="6" fill="#26a69a"/>
<rect x="827.4" y="763" width="9.6" height="6" fill="#26a69a"/>
<rect x="838.0" y="763" width="9.6" height="6" fill="#b2dfdb"/>
<rect x="848.5" y="762" width="9.6" height="7" fill="#26a69a"/>
<rect x="859.1" y="763" width="9.6" height="6" fill="#b2dfdb"/>
<rect x="869.7" y="764" width="9.6" height="5" fill="#b2dfdb"/>
<rect x="880.2" y="765" width="9.6" height="4" fill="#b2dfdb"/>
<rect x="890.8" y="767" width="9.6" height="2" fill="#b2dfdb"/>
<rect x="901.4" y="766" width="9.6" height="3" fill="#26a69a"/>
<rect x="911.9" y="766" width="9.6" height="3" fill="#b2dfdb"/>
<rect x="922.5" y="765" width="9.6" height="4" fill="#26a69a"/>
<rect x="933.1" y="766" width="9.6" height="3" fill="#b2dfdb"/>
<rect x="943.6" y="766" width="9.6" height="3" fill="#b2dfdb"/>
<rect x="954.2" y="767" width="9.6" height="2" fill="#b2dfdb"/>
<rect x="964.8" y="767" width="9.6" height="2" fill="#26a69a"/>
<rect x="975.3" y="766" width="9.6" height="3" fill="#26a69a"/>
<rect x="985.9" y="767" width="9.6" height="2" fill="#b2dfdb"/>
<rect x="996.5" y="766" width="9.6" height="3" fill="#26a69a"/>
<rect x="1007.0" y="766" width="9.6" height="3" fill="#26a69a"/>
<rect x="1017.6" y="766" width="9.6" height="3" fill="#26a69a"/>
<rect x="1028.2" y="765" width="9.6" height="4" fill="#26a69a"/>
<rect x="1038.7" y="765" width="9.6" height="4" fill="#26a69a"/>
<rect x="1049.3" y="764" width="9.6" height="5" fill="#26a69a"/>
<rect x="1059.9" y="763" width="9.6" height="6" fill="#26a69a"/>
<rect x="1070.4" y="763" width="9.6" height="6" fill="#26a69a"/>
<rect x="1081.0" y="763" width="9.6" height="6" fill="#b2dfdb"/>
<rect x="1091.6" y="764" width="9.6" height="5" fill="#b2dfdb"/>
<rect x="1102.1" y="765" width="9.6" height="4" fill="#b2dfdb"/>
<rect x="1112.7" y="766" width="9.6" height="3" fill="#b2dfdb"/>
<rect x="1123.3" y="768" width="9.6" height="1" fill="#ff5252"/>
<rect x="1133.8" y="768" width="9.6" height="2" fill="#ff5252"/>
<rect x="1144.4" y="768" width="9.6" height="3" fill="#ff5252"/>
<rect x="1155.0" y="768" width="9.6" height="2" fill="#ffcdd2"/>
<rect x="1165.5" y="768" width="9.6" height="1" fill="#ffcdd2"/>
<rect x="1176.1" y="767" width="9.6" height="2" fill="#26a69a"/>
<rect x="1186.7" y="767" width="9.6" height="2" fill="#26a69a"/>
<rect x="1197.2" y="766" width="9.6" height="3" fill="#26a69a"/>
<rect x="1207.8" y="767" width="9.6" height="2" fill="#b2dfdb"/>
<rect x="1218.4" y="766" width="9.6" height="3" fill="#26a69a"/>
<rect x="1228.9" y="766" width="9.6" height="3" fill="#26a69a"/>
<rect x="1239.5" y="766" width="9.6" height="3" fill="#b2dfdb"/>
</g>
<polyline points="10.0,760.6 12.7,760.0 16.6,759.1 21.0,758.1 25.7,757.2 30.0,756.3 34.0,755.6 38.0,754.9 42.0,754.2 46.0,753.7 50.0,753.1 54.0,752.6 58.0,752.2 62.0,751.8 66.0,751.4 70.0,751.0 74.0,750.6 78.0,750.2 82.0,749.7 86.0,749.3 90.0,748.9 94.0,748.4 98.0,748.0 102.0,747.5 106.0,747.0 110.0,746.7 114.0,746.4 118.0,746.3 122.0,746.1 126.0,746.1 130.0,746.1 134.0,746.2 138.0,746.5 142.0,746.7 146.0,747.1 150.0,747.4 154.1,747.8 158.2,748.2 162.4,748.6 166.3,749.0 170.0,749.3 175.4,749.7 180.2,750.0 185.0,750.1 190.0,749.7 195.0,749.0 200.0,748.6 205.0,748.7 210.0,749.0 215.0,749.5 220.2,750.3 225.4,751.2 230.0,752.1 235.3,753.0 240.0,754.2 245.0,756.2 250.0,758.5 255.0,760.7 260.0,762.7 264.7,764.5 270.0,765.9 274.6,766.4 279.8,766.8 285.0,767.2 290.2,768.0 295.4,768.8 300.0,769.6 305.3,770.5 310.0,771.0 314.4,771.0 320.0,770.6 323.4,770.3 327.3,769.9 331.5,769.5 335.8,769.1 340.0,768.7 344.1,768.3 348.2,768.0 352.4,767.7 356.3,767.3 360.0,767.0 365.4,766.4 370.2,765.8 375.0,765.5 379.8,765.8 384.6,766.5 390.0,767.2 393.7,767.6 397.6,767.9 401.8,768.3 405.9,768.7 410.0,769.1 414.0,769.5 418.0,769.9 422.0,770.3 426.0,770.8 430.0,771.3 434.2,772.0 438.5,772.7 442.7,773.5 446.6,774.3 450.0,774.9 455.0,775.9 460.0,776.6 463.4,776.9 467.5,777.1 471.9,777.3 476.2,777.5 480.0,777.7 485.4,777.9 490.2,778.2 495.0,778.7 500.0,779.8 505.0,781.2 510.0,782.6 515.0,784.1 520.0,785.5 525.0,786.6 529.8,787.0 534.6,787.1 540.0,786.9 543.8,786.7 548.1,786.4 552.5,786.1 556.6,785.8 560.0,785.6 565.8,785.7 570.0,786.2 573.9,787.1 578.0,787.9 581.8,788.0 586.0,787.9 590.0,787.7 594.8,787.1 600.0,786.4 604.6,785.8 609.8,785.2 615.0,784.7 620.0,784.5 625.0,784.6 630.0,784.5 635.2,784.3 640.4,783.9 645.0,783.6 650.2,783.1 655.0,782.6 658.8,782.1 662.9,781.6 667.0,781.3 671.2,781.3 675.5,781.6 680.0,781.9 684.9,782.3 689.9,782.8 695.0,783.4 700.0,784.3 705.0,785.3 710.0,786.2 715.0,786.9 720.0,787.5 725.0,787.9 730.0,787.9 735.0,787.8 740.0,787.7 745.2,788.0 750.4,788.3 755.0,788.6 760.0,788.8 765.0,788.6 769.6,788.2 774.8,787.6 780.0,786.9 785.0,786.1 790.0,785.1 795.0,784.1 800.0,783.0 805.0,781.9 810.0,780.9 815.0,780.1 820.0,779.4 825.0,778.7 830.1,778.0 835.2,777.3 840.0,776.6 844.3,775.9 848.3,775.1 852.0,774.5 856.9,773.9 862.0,773.6 866.0,773.8 870.4,774.1 875.0,774.5 879.9,774.8 884.9,775.1 890.0,775.3 895.2,775.2 900.4,775.0 905.0,774.7 910.3,774.4 915.0,774.0 919.7,773.5 925.0,773.2 929.6,773.3 934.8,773.6 940.0,773.8 945.0,773.8 950.0,773.8 955.0,773.6 960.2,773.3 965.4,773.0 970.0,772.6 974.7,772.0 980.0,771.3 983.4,771.1 987.3,770.9 991.5,770.7 995.8,770.5 1000.0,770.2 1004.0,769.8 1008.0,769.4 1012.0,768.9 1016.0,768.5 1020.0,768.1 1024.0,767.8 1028.0,767.6 1032.0,767.5 1036.0,767.3 1040.0,767.0 1044.1,766.7 1048.2,766.3 1052.4,765.9 1056.3,765.4 1060.0,764.9 1065.6,763.8 1070.6,762.7 1075.0,761.7 1080.3,761.0 1085.0,760.6 1089.9,760.2 1095.0,760.0 1098.8,760.1 1102.9,760.2 1107.0,760.6 1111.2,761.2 1115.5,761.9 1120.0,762.7 1124.9,763.5 1129.9,764.2 1135.0,764.9 1140.1,765.5 1145.2,766.1 1150.0,766.4 1154.2,766.4 1158.0,766.2 1162.0,765.9 1166.2,765.5 1170.5,764.9 1175.0,764.4 1180.0,764.0 1185.3,763.6 1190.0,763.2 1195.0,762.7 1200.0,762.3 1204.6,762.2 1209.8,762.2 1215.0,762.1 1220.0,761.7 1225.1,761.2 1230.0,760.8 1235.3,760.6 1240.4,760.5 1244.0,760.4" fill="none" stroke="#2962ff" stroke-width="1.05" stroke-linejoin="round" stroke-linecap="round" />
<polyline points="10.0,761.2 12.7,760.8 16.6,760.3 21.0,759.7 25.7,759.0 30.0,758.5 34.0,758.1 38.0,757.6 42.0,757.3 46.0,756.9 50.0,756.5 54.0,756.1 58.0,755.7 62.0,755.4 66.0,755.0 70.0,754.6 74.0,754.2 78.0,753.8 82.0,753.3 86.0,752.9 90.0,752.5 94.0,752.1 98.0,751.7 102.0,751.3 106.0,751.0 110.0,750.6 114.0,750.3 118.0,749.9 122.0,749.6 126.0,749.3 130.0,749.1 134.0,748.9 138.0,748.7 142.0,748.6 146.0,748.5 150.0,748.4 154.0,748.3 158.0,748.3 162.0,748.3 166.0,748.4 170.0,748.4 174.0,748.5 178.0,748.6 182.0,748.7 186.0,748.8 190.0,748.9 194.1,748.9 198.2,748.8 202.4,748.7 206.3,748.6 210.0,748.6 215.4,748.8 220.2,749.1 225.0,749.5 230.0,749.8 235.0,750.2 240.0,750.6 245.0,751.2 250.0,751.9 255.0,752.7 260.0,753.8 265.0,755.1 270.0,756.3 275.0,757.4 280.0,758.5 285.0,759.5 290.0,760.5 295.0,761.4 300.0,762.3 305.0,763.1 310.0,763.8 315.0,764.4 320.2,765.0 325.4,765.5 330.0,765.9 334.7,766.3 340.0,766.6 343.4,766.8 347.3,767.0 351.5,767.2 355.8,767.4 360.0,767.4 364.0,767.3 368.0,767.0 372.0,766.7 376.0,766.5 380.0,766.4 384.0,766.5 388.0,766.6 392.0,766.9 396.0,767.1 400.0,767.4 404.0,767.6 408.0,767.9 412.0,768.2 416.0,768.4 420.0,768.7 424.0,769.0 428.0,769.3 432.0,769.5 436.0,769.9 440.0,770.2 444.0,770.6 448.0,771.0 452.0,771.4 456.0,771.9 460.0,772.3 464.0,772.7 468.0,773.2 472.0,773.6 476.0,774.1 480.0,774.5 484.0,774.9 488.0,775.3 492.0,775.7 496.0,776.1 500.0,776.6 504.0,777.1 508.0,777.6 512.0,778.2 516.0,778.7 520.0,779.2 524.0,779.7 528.0,780.1 532.0,780.5 536.0,780.9 540.0,781.3 544.0,781.6 548.0,781.9 552.0,782.1 556.0,782.3 560.0,782.6 564.0,782.9 568.0,783.2 572.0,783.5 576.0,783.8 580.0,784.1 584.0,784.4 588.0,784.7 592.0,785.0 596.0,785.2 600.0,785.4 604.0,785.4 608.0,785.4 612.0,785.3 616.0,785.2 620.0,785.1 624.0,785.1 628.0,785.2 632.0,785.2 636.0,785.3 640.0,785.2 644.0,785.1 648.0,784.8 652.0,784.6 656.0,784.3 660.0,784.1 664.0,783.9 668.0,783.7 672.0,783.5 676.0,783.3 680.0,783.2 684.0,783.1 688.0,783.1 692.0,783.2 696.0,783.2 700.0,783.4 704.0,783.7 708.0,784.0 712.0,784.4 716.0,784.8 720.0,785.1 724.0,785.4 728.0,785.6 732.0,785.8 736.0,786.0 740.0,786.2 744.0,786.4 748.0,786.6 752.0,786.8 756.0,787.0 760.0,787.1 764.0,787.1 768.0,787.2 772.0,787.1 776.0,787.0 780.0,786.9 784.0,786.7 788.0,786.5 792.0,786.2 796.0,785.9 800.0,785.6 804.0,785.2 808.0,784.9 812.0,784.4 816.0,784.0 820.0,783.6 824.0,783.2 828.0,782.8 832.0,782.4 836.0,781.9 840.0,781.5 844.0,781.0 848.0,780.6 852.0,780.1 856.0,779.6 860.0,779.2 864.0,778.8 868.0,778.5 872.0,778.2 876.0,778.0 880.0,777.7 884.0,777.4 888.0,777.2 892.0,777.0 896.0,776.8 900.0,776.6 904.0,776.4 908.0,776.3 912.0,776.1 916.0,776.0 920.0,775.8 924.1,775.6 928.2,775.4 932.4,775.2 936.3,775.0 940.0,774.9 945.4,774.7 950.2,774.6 955.0,774.5 960.2,774.3 965.4,774.0 970.0,773.8 974.7,773.6 980.0,773.4 983.4,773.3 987.3,773.1 991.5,773.0 995.8,772.8 1000.0,772.6 1004.0,772.4 1008.0,772.1 1012.0,771.9 1016.0,771.6 1020.0,771.3 1024.0,771.0 1028.0,770.7 1032.0,770.4 1036.0,770.1 1040.0,769.8 1044.0,769.5 1048.0,769.1 1052.0,768.8 1056.0,768.4 1060.0,768.1 1064.1,767.8 1068.2,767.4 1072.4,767.1 1076.3,766.7 1080.0,766.4 1085.4,765.9 1090.2,765.4 1095.0,764.9 1100.0,764.4 1105.0,763.8 1110.0,763.4 1115.0,763.1 1120.0,762.9 1125.0,762.9 1130.0,763.1 1135.0,763.4 1140.0,763.8 1145.0,764.2 1150.0,764.6 1155.0,764.9 1160.0,765.1 1165.0,765.1 1170.0,765.1 1175.0,764.9 1180.0,764.7 1185.0,764.4 1190.0,764.2 1195.0,764.0 1200.0,763.8 1205.0,763.7 1210.0,763.5 1215.0,763.4 1220.0,763.2 1225.1,763.0 1230.0,762.7 1235.3,762.4 1240.4,762.1 1244.0,761.9" fill="none" stroke="#ff6d00" stroke-width="1.05" stroke-linejoin="round" stroke-linecap="round" />
</g>
<rect x="1472" y="28" width="1" height="794" fill="#50535e" shape-rendering="crispEdges"/>
<rect x="11" y="794" width="1525" height="1" fill="#50535e" shape-rendering="crispEdges"/>
<rect x="1465" y="642" width="71" height="1" fill="#eceef4" shape-rendering="crispEdges"/>
<rect x="1465" y="740" width="71" height="1" fill="#eceef4" shape-rendering="crispEdges"/>
<text x="1480.3" y="127.2" font-size="12" fill="#50535e" textLength="29" lengthAdjust="spacingAndGlyphs" >92.00</text>
<text x="1480.3" y="166.2" font-size="12" fill="#50535e" textLength="29" lengthAdjust="spacingAndGlyphs" >90.00</text>
<text x="1480.3" y="205.2" font-size="12" fill="#50535e" textLength="29" lengthAdjust="spacingAndGlyphs" >88.00</text>
<text x="1480.3" y="244.2" font-size="12" fill="#50535e" textLength="29" lengthAdjust="spacingAndGlyphs" >86.00</text>
<text x="1480.3" y="283.2" font-size="12" fill="#50535e" textLength="29" lengthAdjust="spacingAndGlyphs" >84.00</text>
<text x="1480.3" y="322.2" font-size="12" fill="#50535e" textLength="29" lengthAdjust="spacingAndGlyphs" >82.00</text>
<text x="1480.3" y="361.2" font-size="12" fill="#50535e" textLength="29" lengthAdjust="spacingAndGlyphs" >80.00</text>
<text x="1480.3" y="439.2" font-size="12" fill="#50535e" textLength="29" lengthAdjust="spacingAndGlyphs" >76.00</text>
<text x="1480.3" y="517.2" font-size="12" fill="#50535e" textLength="29" lengthAdjust="spacingAndGlyphs" >72.00</text>
<text x="1480.3" y="595.2" font-size="12" fill="#50535e" textLength="29" lengthAdjust="spacingAndGlyphs" >68.00</text>
<text x="1480.3" y="634.2" font-size="12" fill="#50535e" textLength="29" lengthAdjust="spacingAndGlyphs" >66.00</text>
<text x="1480.3" y="654.5" font-size="12" fill="#50535e" textLength="29" lengthAdjust="spacingAndGlyphs" >80.00</text>
<g clip-path="url(#tclip)"><defs><clipPath id="tclip"><rect x="11" y="795" width="1461" height="27"/></clipPath></defs>
<text x="17.5" y="812.3" font-size="12" fill="#50535e" text-anchor="middle" textLength="19.5" lengthAdjust="spacingAndGlyphs" >Sep</text>
<text x="124" y="812.3" font-size="12" fill="#50535e" text-anchor="middle" textLength="11.4" lengthAdjust="spacingAndGlyphs" >18</text>
<text x="229.6" y="812.3" font-size="12" fill="#50535e" text-anchor="middle" textLength="18.5" lengthAdjust="spacingAndGlyphs" >Oct</text>
<text x="335" y="812.3" font-size="12" fill="#50535e" text-anchor="middle" textLength="11.4" lengthAdjust="spacingAndGlyphs" >16</text>
<text x="462" y="812.3" font-size="12" fill="#50535e" text-anchor="middle" textLength="19.5" lengthAdjust="spacingAndGlyphs" >Nov</text>
<text x="546.3" y="812.3" font-size="12" fill="#50535e" text-anchor="middle" textLength="11.4" lengthAdjust="spacingAndGlyphs" >13</text>
<text x="683.8" y="812.3" font-size="12" fill="#50535e" text-anchor="middle" textLength="19.5" lengthAdjust="spacingAndGlyphs" >Dec</text>
<text x="800" y="812.3" font-size="12" fill="#50535e" text-anchor="middle" textLength="11.4" lengthAdjust="spacingAndGlyphs" >18</text>
<text x="895.3" y="812.3" font-size="12" fill="#2e313c" font-weight="bold" text-anchor="middle" textLength="27.2" lengthAdjust="spacingAndGlyphs" >2024</text>
<text x="990.3" y="812.3" font-size="12" fill="#50535e" text-anchor="middle" textLength="11.4" lengthAdjust="spacingAndGlyphs" >16</text>
<text x="1116.9" y="812.3" font-size="12" fill="#50535e" text-anchor="middle" textLength="18.5" lengthAdjust="spacingAndGlyphs" >Feb</text>
<text x="1243.9" y="812.3" font-size="12" fill="#50535e" text-anchor="middle" textLength="12" lengthAdjust="spacingAndGlyphs" >20</text>
<text x="1330" y="812.3" font-size="12" fill="#b4b6be" text-anchor="middle" textLength="19" lengthAdjust="spacingAndGlyphs" >Mar</text>
<text x="1445.5" y="812.3" font-size="12" fill="#8d8f99" text-anchor="middle" textLength="11.4" lengthAdjust="spacingAndGlyphs" >18</text>
</g>
<rect x="1476" y="30.5" width="56.5" height="50.5" rx="4" fill="#fff" stroke="#e0e3eb" stroke-width="1"/>
<text x="1485.5" y="48" font-size="12" fill="#131722" textLength="20" lengthAdjust="spacingAndGlyphs" >USD</text>
<text x="1485.5" y="74" font-size="12" fill="#131722" textLength="18" lengthAdjust="spacingAndGlyphs" >BLL</text>
<path d="M1472,85 H1513 a2,2 0 0 1 2,2 V110.4 a2,2 0 0 1 -2,2 H1472 a0,0 0 0 1 -0,-0 V85 a0,0 0 0 1 0,-0 Z" fill="#2962ff"/>
<text x="1480.3" y="92.5" font-size="12" fill="#fff" font-weight="bold" textLength="29" lengthAdjust="spacingAndGlyphs" >92.98</text>
<text x="1480.3" y="109.3" font-size="12" fill="#fff" font-weight="bold" textLength="29" lengthAdjust="spacingAndGlyphs" >92.93</text>
<rect x="1473" y="79" width="62" height="6" fill="#fff"/>
<rect x="1476" y="30.5" width="56.5" height="50.5" rx="4" fill="#fff" stroke="#e0e3eb" stroke-width="1"/>
<text x="1485.5" y="48" font-size="12" fill="#131722" textLength="20" lengthAdjust="spacingAndGlyphs" >USD</text>
<text x="1485.5" y="74" font-size="12" fill="#131722" textLength="18" lengthAdjust="spacingAndGlyphs" >BLL</text>
<path d="M1472,372 H1513 a2,2 0 0 1 2,2 V387 a2,2 0 0 1 -2,2 H1472 a0,0 0 0 1 -0,-0 V372 a0,0 0 0 1 0,-0 Z" fill="#f23645"/>
<text x="1480.3" y="384.8" font-size="12" fill="#fff" font-weight="bold" textLength="29" lengthAdjust="spacingAndGlyphs" >77.52</text>
<path d="M1422,372 H1470.5 a0.5,0.5 0 0 1 0.5,0.5 V388.5 a0.5,0.5 0 0 1 -0.5,0.5 H1422 a2,2 0 0 1 -2,-2 V374 a2,2 0 0 1 2,-2 Z" fill="#f23645"/>
<text x="1465.8" y="384.8" font-size="12" fill="#fff" font-weight="bold" text-anchor="end" textLength="41.5" lengthAdjust="spacingAndGlyphs" >SMA:MA</text>
<path d="M1472,389 H1513 a2,2 0 0 1 2,2 V404 a2,2 0 0 1 -2,2 H1472 a0,0 0 0 1 -0,-0 V389 a0,0 0 0 1 0,-0 Z" fill="#131722"/>
<text x="1480.3" y="401.8" font-size="12" fill="#fff" font-weight="bold" textLength="29" lengthAdjust="spacingAndGlyphs" >77.40</text>
<path d="M1472,406 H1530 a2,2 0 0 1 2,2 V435 a2,2 0 0 1 -2,2 H1472 a0,0 0 0 1 -0,-0 V406 a0,0 0 0 1 0,-0 Z" fill="#ef5350"/>
<path d="M1419,406 H1470.5 a0.5,0.5 0 0 1 0.5,0.5 V422.5 a0.5,0.5 0 0 1 -0.5,0.5 H1419 a2,2 0 0 1 -2,-2 V408 a2,2 0 0 1 2,-2 Z" fill="#ef5350"/>
<text x="1465.8" y="418.8" font-size="12" fill="#fff" font-weight="bold" text-anchor="end" textLength="44.7" lengthAdjust="spacingAndGlyphs" >CLJ2024</text>
<text x="1480.3" y="418.8" font-size="12" fill="#fff" font-weight="bold" textLength="29" lengthAdjust="spacingAndGlyphs" >77.03</text>
<text x="1480.3" y="432.8" font-size="12" fill="rgba(255,255,255,0.78)" textLength="46.2" lengthAdjust="spacingAndGlyphs" >06:09:34</text>
<path d="M1472,469 H1513 a2,2 0 0 1 2,2 V484 a2,2 0 0 1 -2,2 H1472 a0,0 0 0 1 -0,-0 V469 a0,0 0 0 1 0,-0 Z" fill="#2d2aff"/>
<text x="1480.3" y="481.8" font-size="12" fill="#fff" font-weight="bold" textLength="29" lengthAdjust="spacingAndGlyphs" >73.84</text>
<path d="M1422,469 H1470.5 a0.5,0.5 0 0 1 0.5,0.5 V485.5 a0.5,0.5 0 0 1 -0.5,0.5 H1422 a2,2 0 0 1 -2,-2 V471 a2,2 0 0 1 2,-2 Z" fill="#2d2aff"/>
<text x="1465.8" y="481.8" font-size="12" fill="#fff" font-weight="bold" text-anchor="end" textLength="41.5" lengthAdjust="spacingAndGlyphs" >SMA:MA</text>
<path d="M1472,495 H1513 a2,2 0 0 1 2,2 V510 a2,2 0 0 1 -2,2 H1472 a0,0 0 0 1 -0,-0 V495 a0,0 0 0 1 0,-0 Z" fill="#ff9800"/>
<text x="1480.3" y="507.8" font-size="12" fill="#131722" textLength="29" lengthAdjust="spacingAndGlyphs" >72.46</text>
<path d="M1472,543 H1513 a2,2 0 0 1 2,2 V558 a2,2 0 0 1 -2,2 H1472 a0,0 0 0 1 -0,-0 V543 a0,0 0 0 1 0,-0 Z" fill="#9c27b0"/>
<text x="1480.3" y="555.8" font-size="12" fill="#fff" font-weight="bold" textLength="29" lengthAdjust="spacingAndGlyphs" >70.00</text>
<path d="M1472,602 H1513 a2,2 0 0 1 2,2 V617 a2,2 0 0 1 -2,2 H1472 a0,0 0 0 1 -0,-0 V602 a0,0 0 0 1 0,-0 Z" fill="#ff9800"/>
<text x="1480.3" y="614.8" font-size="12" fill="#131722" textLength="29" lengthAdjust="spacingAndGlyphs" >67.00</text>
<rect x="1379" y="665" width="136" height="17" fill="#fff"/>
<text x="1465.3" y="677" font-size="12" fill="#131722" text-anchor="end" textLength="81.8" lengthAdjust="spacingAndGlyphs" >Regular Bearish</text>
<text x="1480.3" y="677.3" font-size="12" fill="#131722" textLength="29" lengthAdjust="spacingAndGlyphs" >64.49</text>
<path d="M1472,682 H1513 a2,2 0 0 1 2,2 V697 a2,2 0 0 1 -2,2 H1472 a0,0 0 0 1 -0,-0 V682 a0,0 0 0 1 0,-0 Z" fill="#7e57c2"/>
<text x="1480.3" y="694.8" font-size="12" fill="#fff" font-weight="bold" textLength="29" lengthAdjust="spacingAndGlyphs" >55.48</text>
<path d="M1447,682 H1470.5 a0.5,0.5 0 0 1 0.5,0.5 V698.5 a0.5,0.5 0 0 1 -0.5,0.5 H1447 a2,2 0 0 1 -2,-2 V684 a2,2 0 0 1 2,-2 Z" fill="#7e57c2"/>
<text x="1465.8" y="694.8" font-size="12" fill="#fff" font-weight="bold" text-anchor="end" textLength="16" lengthAdjust="spacingAndGlyphs" >RSI</text>
<path d="M1472,699 H1513 a2,2 0 0 1 2,2 V714 a2,2 0 0 1 -2,2 H1472 a0,0 0 0 1 -0,-0 V699 a0,0 0 0 1 0,-0 Z" fill="#ffeb3b"/>
<text x="1480.3" y="711.8" font-size="12" fill="#131722" textLength="29" lengthAdjust="spacingAndGlyphs" >53.62</text>
<path d="M1392.5,699 H1470.5 a0.5,0.5 0 0 1 0.5,0.5 V715.5 a0.5,0.5 0 0 1 -0.5,0.5 H1392.5 a2,2 0 0 1 -2,-2 V701 a2,2 0 0 1 2,-2 Z" fill="#ffeb3b"/>
<text x="1465.8" y="711.8" font-size="12" fill="#131722" text-anchor="end" textLength="69.6" lengthAdjust="spacingAndGlyphs" >RSI-based MA</text>
<rect x="1381.5" y="716" width="133.5" height="16.5" fill="#fff"/>
<text x="1465.3" y="727.7" font-size="12" fill="#131722" text-anchor="end" textLength="77.7" lengthAdjust="spacingAndGlyphs" >Regular Bullish</text>
<text x="1480.3" y="728" font-size="12" fill="#131722" textLength="29" lengthAdjust="spacingAndGlyphs" >43.83</text>
<path d="M1472,741 H1507 a2,2 0 0 1 2,2 V756 a2,2 0 0 1 -2,2 H1472 a0,0 0 0 1 -0,-0 V741 a0,0 0 0 1 0,-0 Z" fill="#ff6d00"/>
<text x="1480.3" y="753.8" font-size="12" fill="#fff" font-weight="bold" textLength="23.2" lengthAdjust="spacingAndGlyphs" >0.70</text>
<path d="M1432,741 H1470.5 a0.5,0.5 0 0 1 0.5,0.5 V757.5 a0.5,0.5 0 0 1 -0.5,0.5 H1432 a2,2 0 0 1 -2,-2 V743 a2,2 0 0 1 2,-2 Z" fill="#ff6d00"/>
<text x="1465.8" y="753.8" font-size="12" fill="#fff" font-weight="bold" text-anchor="end" textLength="30.9" lengthAdjust="spacingAndGlyphs" >Signal</text>
<text x="18.1" y="45.7" font-size="12" fill="#131722" textLength="21.2" lengthAdjust="spacingAndGlyphs" >SMA</text>
<text x="46.6" y="45.7" font-size="12" fill="#f23645" textLength="29.2" lengthAdjust="spacingAndGlyphs" >77.52</text>
<text x="18.1" y="63.3" font-size="12" fill="#131722" textLength="21.2" lengthAdjust="spacingAndGlyphs" >SMA</text>
<text x="46.6" y="63.3" font-size="12" fill="#2d2aff" textLength="29.2" lengthAdjust="spacingAndGlyphs" >73.84</text>
<text x="18.8" y="662.4" font-size="12" fill="#131722" textLength="14.3" lengthAdjust="spacingAndGlyphs" >RSI</text>
<text x="41.6" y="662.4" font-size="12" fill="#7e57c2" textLength="28.4" lengthAdjust="spacingAndGlyphs" >55.48</text>
<text x="78.5" y="662.4" font-size="12" fill="#ffeb3b" textLength="28.9" lengthAdjust="spacingAndGlyphs" >53.62</text>
<ellipse cx="118.7" cy="658" rx="2.5" ry="3.9" fill="none" stroke="#50535e" stroke-width="0.95"/><line x1="116.10000000000001" y1="662.6" x2="121.60000000000001" y2="653.2" stroke="#50535e" stroke-width="0.9"/>
<ellipse cx="134.2" cy="658" rx="2.5" ry="3.9" fill="none" stroke="#50535e" stroke-width="0.95"/><line x1="131.6" y1="662.6" x2="137.1" y2="653.2" stroke="#50535e" stroke-width="0.9"/>
<ellipse cx="150.4" cy="658" rx="2.5" ry="3.9" fill="none" stroke="#50535e" stroke-width="0.95"/><line x1="147.8" y1="662.6" x2="153.3" y2="653.2" stroke="#50535e" stroke-width="0.9"/>
<ellipse cx="165.2" cy="658" rx="2.5" ry="3.9" fill="none" stroke="#50535e" stroke-width="0.95"/><line x1="162.6" y1="662.6" x2="168.1" y2="653.2" stroke="#50535e" stroke-width="0.9"/>
<ellipse cx="180.1" cy="658" rx="2.5" ry="3.9" fill="none" stroke="#50535e" stroke-width="0.95"/><line x1="177.5" y1="662.6" x2="183.0" y2="653.2" stroke="#50535e" stroke-width="0.9"/>
<ellipse cx="195" cy="658" rx="2.5" ry="3.9" fill="none" stroke="#50535e" stroke-width="0.95"/><line x1="192.4" y1="662.6" x2="197.9" y2="653.2" stroke="#50535e" stroke-width="0.9"/>
<text x="18.8" y="759.6" font-size="12" fill="#131722" textLength="28.6" lengthAdjust="spacingAndGlyphs" >MACD</text>
<text x="55.5" y="759.6" font-size="12" fill="#b2dfdb" textLength="21.8" lengthAdjust="spacingAndGlyphs" >0.21</text>
<text x="86" y="759.6" font-size="12" fill="#2962ff" textLength="21.8" lengthAdjust="spacingAndGlyphs" >0.91</text>
<text x="116.3" y="759.6" font-size="12" fill="#ff6d00" textLength="23.5" lengthAdjust="spacingAndGlyphs" >0.70</text>
<path d="M10.3,834.2 H17.5 V843.7 H13.6 V838.1 H10.3 Z" fill="#131722"/>
<circle cx="19.8" cy="836.2" r="1.95" fill="#131722"/>
<path d="M23.9,834.2 H29.5 L25.9,843.7 H20.7 Z" fill="#131722"/>
<text x="33.4" y="844" font-size="12.3" fill="#131722" textLength="70" lengthAdjust="spacingAndGlyphs" >TradingView</text>
<defs><filter id="ws" x="-5%" y="-10%" width="110%" height="125%"><feOffset in="SourceAlpha" dx="1.9" dy="1.7" result="o"/><feGaussianBlur in="o" stdDeviation="0.75" result="b"/><feComposite in="b" in2="SourceAlpha" operator="out" result="sh"/><feFlood flood-color="#34364a" flood-opacity="0.85"/><feComposite in2="sh" operator="in" result="shc"/><feMerge><feMergeNode in="shc"/><feMergeNode in="SourceGraphic"/></feMerge></filter></defs>
<g filter="url(#ws)" transform="translate(0,822) scale(1,1.075) translate(0,-822)"><g fill="none" stroke="#fff" stroke-opacity="1" stroke-linejoin="round" stroke-linecap="butt" opacity="0.84"><path d="M1314.1,767.6 L1319.5,776.0" stroke-width="8.0"/><path d="M1309.5,784.4 L1316.2,789.5" stroke-width="7.6"/><path d="M1301.0,815.6 L1308.6,808.8 L1315.8,798.7" stroke-width="7.1"/><path d="M1343.1,765.1 L1331.3,773.1" stroke-width="5.9"/><path d="M1325.4,771.8 L1363.3,771.4" stroke-width="6.1"/><path d="M1332.2,777.7 L1359.9,777.3" stroke-width="5.0"/><path d="M1331.3,780.2 L1324.6,805.5 L1320.4,815.6" stroke-width="6.7"/><path d="M1361.2,775.2 L1354.0,805.5 L1349.8,813.9 L1343.1,816.0" stroke-width="7.1"/><path d="M1307.8,794.5 L1357.4,794.5" stroke-width="6.3"/><path d="M1317.0,815.6 L1348.1,815.6" stroke-width="6.3"/><path d="M1371.7,769.5 L1411.6,769.1" stroke-width="6.3"/><path d="M1375.1,771.8 L1371.7,787.0" stroke-width="6.3"/><path d="M1370.0,789.9 L1408.7,789.5" stroke-width="8.0"/><path d="M1416.7,773.1 L1411.2,798.7 L1407.0,815.6 L1402.0,817.7" stroke-width="7.6"/><path d="M1386.8,817.4 L1407.0,817.4" stroke-width="5.9"/><path d="M1362.4,805.9 L1401.6,805.5" stroke-width="7.1"/></g></g>
<g filter="url(#ws)"><g fill="none" stroke="#fff" stroke-linejoin="round" stroke-linecap="butt" opacity="0.84"><path d="M1417.3,770.9 L1410.7,802.8" stroke-width="6.5"/><path d="M1430.3,775.8 L1423.8,802.8" stroke-width="5.7"/><path d="M1441.4,775.8 L1434.8,801.5" stroke-width="5.7"/><path d="M1417.3,772.5 L1446.7,772.5" stroke-width="4.1"/><path d="M1452.4,769.3 L1444.2,801.5" stroke-width="5.7"/><path d="M1426.3,802.8 L1417.3,817.5" stroke-width="7.4"/><path d="M1436.1,801.9 L1441.0,816.6" stroke-width="6.5"/><path d="M1449.9,775.4 L1471.2,775.4" stroke-width="4.9"/><path d="M1466.3,779.1 L1448.3,816.6" stroke-width="7.4"/><path d="M1478.5,774.6 L1468.7,819.1" stroke-width="7.4"/><path d="M1459.8,817.5 L1469.6,817.5" stroke-width="4.5"/><path d="M1505.9,766.0 L1491.2,780.7 L1502.7,780.7" stroke-width="6.9"/><path d="M1507.6,780.7 L1493.7,795.4" stroke-width="6.9"/><path d="M1486.3,792.9 L1497.0,792.9" stroke-width="5.7"/><path d="M1478.2,815.8 L1497.8,802.8" stroke-width="6.1"/><path d="M1478.2,815.4 L1498.6,815.4" stroke-width="5.3"/><path d="M1512.5,770.1 L1543.5,769.3" stroke-width="5.3"/><path d="M1541.9,768.4 L1528.8,781.5 L1509.2,789.7" stroke-width="7.4"/><path d="M1530.5,780.7 L1537.8,789.7" stroke-width="6.5"/><path d="M1509.2,789.7 L1537.0,789.7" stroke-width="4.1"/><path d="M1504.3,798.7 L1536.2,797.8" stroke-width="5.7"/><path d="M1519.8,801.1 L1516.6,814.2" stroke-width="7.4"/><path d="M1500.2,815.4 L1531.3,815.4" stroke-width="5.3"/></g></g>
<defs><filter id="bl" x="-10%" y="-10%" width="120%" height="120%"><feGaussianBlur stdDeviation="0.8"/></filter></defs>
<path d="M1472,758 H1507 a2,2 0 0 1 2,2 V772 a2,2 0 0 1 -2,2 H1472 a0,0 0 0 1 -0,-0 V758 a0,0 0 0 1 0,-0 Z" fill="#b2dfdb"/>
<path d="M1409,758 H1470.5 a0.5,0.5 0 0 1 0.5,0.5 V773.5 a0.5,0.5 0 0 1 -0.5,0.5 H1409 a2,2 0 0 1 -2,-2 V760 a2,2 0 0 1 2,-2 Z" fill="#b2dfdb"/>
<rect x="1407" y="766" width="64" height="8" fill="#dfe2ec"/><rect x="1472" y="766" width="37" height="8" fill="#dfe2ec"/>
<text x="1480.3" y="770.8" font-size="12" fill="#50535e" textLength="22.5" lengthAdjust="spacingAndGlyphs" >0.21</text>
<text x="1465.8" y="770.8" font-size="12" fill="#50535e" text-anchor="end" textLength="53.2" lengthAdjust="spacingAndGlyphs" >Histogram</text>
<g font-weight="bold" font-style="italic" fill="#9fb3b0" stroke="#9fb3b0" stroke-width="1.6" transform="translate(-0.2,1.0)"><text transform="translate(1311.40,851.80) scale(0.3959,0.3264)" font-size="100">z</text><text transform="translate(1338.00,851.80) scale(0.4143,0.3264)" font-size="100">z</text><text transform="translate(1365.47,851.80) scale(0.4146,0.3204)" font-size="100">r</text><text transform="translate(1389.84,851.46) scale(0.3909,0.3364)" font-size="100">t</text><text transform="translate(1409.15,851.98) scale(0.4118,0.3197)" font-size="100">0</text><text transform="translate(1444.20,851.80) scale(0.3021,0.3217)" font-size="100">1</text><text transform="translate(1467.06,851.80) scale(0.5706,0.4867)" font-size="100">.</text><text transform="translate(1488.11,851.98) scale(0.3647,0.3236)" font-size="100">c</text><text transform="translate(1512.71,851.80) scale(0.3964,0.3204)" font-size="100">n</text></g>
<g font-weight="bold" font-style="italic" fill="#86a5f6" stroke="#86a5f6" stroke-width="1.6"><text transform="translate(1311.40,851.80) scale(0.3959,0.3264)" font-size="100">z</text><text transform="translate(1338.00,851.80) scale(0.4143,0.3264)" font-size="100">z</text><text transform="translate(1365.47,851.80) scale(0.4146,0.3204)" font-size="100">r</text><text transform="translate(1389.84,851.46) scale(0.3909,0.3364)" font-size="100">t</text><text transform="translate(1409.15,851.98) scale(0.4118,0.3197)" font-size="100">0</text><text transform="translate(1444.20,851.80) scale(0.3021,0.3217)" font-size="100">1</text><text transform="translate(1467.06,851.80) scale(0.5706,0.4867)" font-size="100">.</text><text transform="translate(1488.11,851.98) scale(0.3647,0.3236)" font-size="100">c</text><text transform="translate(1512.71,851.80) scale(0.3964,0.3204)" font-size="100">n</text></g>
</svg></body></html>
